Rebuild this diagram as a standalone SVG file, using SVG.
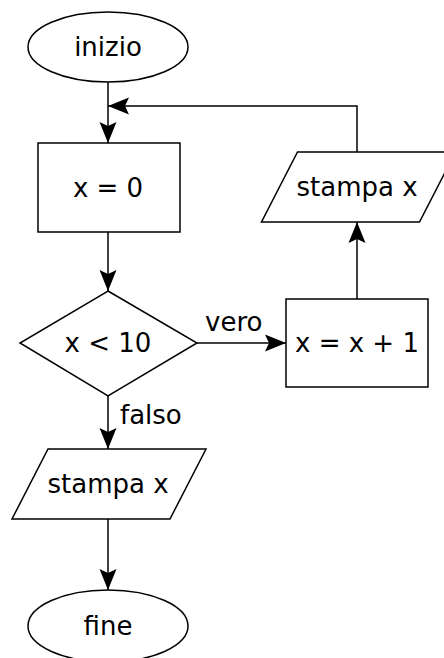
<svg xmlns="http://www.w3.org/2000/svg" width="444" height="658" viewBox="0 0 444 658">
<style>
.s{fill:#fff;stroke:#000;stroke-width:1.5}
.t{font-family:"DejaVu Sans",sans-serif;font-size:26px;fill:#000;text-anchor:middle}
.l{font-family:"DejaVu Sans",sans-serif;font-size:26px;fill:#000}
.c{fill:none;stroke:#000;stroke-width:1.5}
</style>
<defs>
<marker id="a" viewBox="-22 -10 24 20" refX="0" refY="0" markerWidth="24" markerHeight="20" markerUnits="userSpaceOnUse" orient="auto">
<path d="M0,0 L-21,-8.5 L-17,0 L-21,8.5 z" fill="#000"/>
</marker>
</defs>
<rect width="444" height="658" fill="#fff"/>
<g id="connectors">
<path class="c" d="M108,82 V143" marker-end="url(#a)"/>
<path class="c" d="M108,232 V291" marker-end="url(#a)"/>
<path class="c" d="M197,343 H286" marker-end="url(#a)"/>
<path class="c" d="M357,299 V222" marker-end="url(#a)"/>
<path class="c" d="M357,152 V106 H108" marker-end="url(#a)"/>
<path class="c" d="M108,396 V449" marker-end="url(#a)"/>
<path class="c" d="M108,519 V590" marker-end="url(#a)"/>
<text class="l" x="205" y="331">vero</text>
<text class="l" x="120" y="424">falso</text>
</g>
<g id="inizio">
<ellipse class="s" cx="108" cy="47" rx="80" ry="35"/>
<text class="t" x="108" y="56">inizio</text>
</g>
<g id="init">
<rect class="s" x="38" y="143" width="142" height="89"/>
<text class="t" x="108" y="197">x = 0</text>
</g>
<g id="cond">
<polygon class="s" points="108,291 197,343 108,396 20,343"/>
<text class="t" x="108" y="352">x &lt; 10</text>
</g>
<g id="incr">
<rect class="s" x="286" y="299" width="142" height="88"/>
<text class="t" x="357" y="352">x = x + 1</text>
</g>
<g id="print_loop">
<polygon class="s" points="297.5,152 455.5,152 419.5,222 261.5,222"/>
<text class="t" x="357" y="196">stampa x</text>
</g>
<g id="print_end">
<polygon class="s" points="48,449 206,449 170,519 12,519"/>
<text class="t" x="108" y="493">stampa x</text>
</g>
<g id="fine">
<ellipse class="s" cx="108" cy="626" rx="80" ry="36"/>
<text class="t" x="108" y="635">fine</text>
</g>
</svg>
